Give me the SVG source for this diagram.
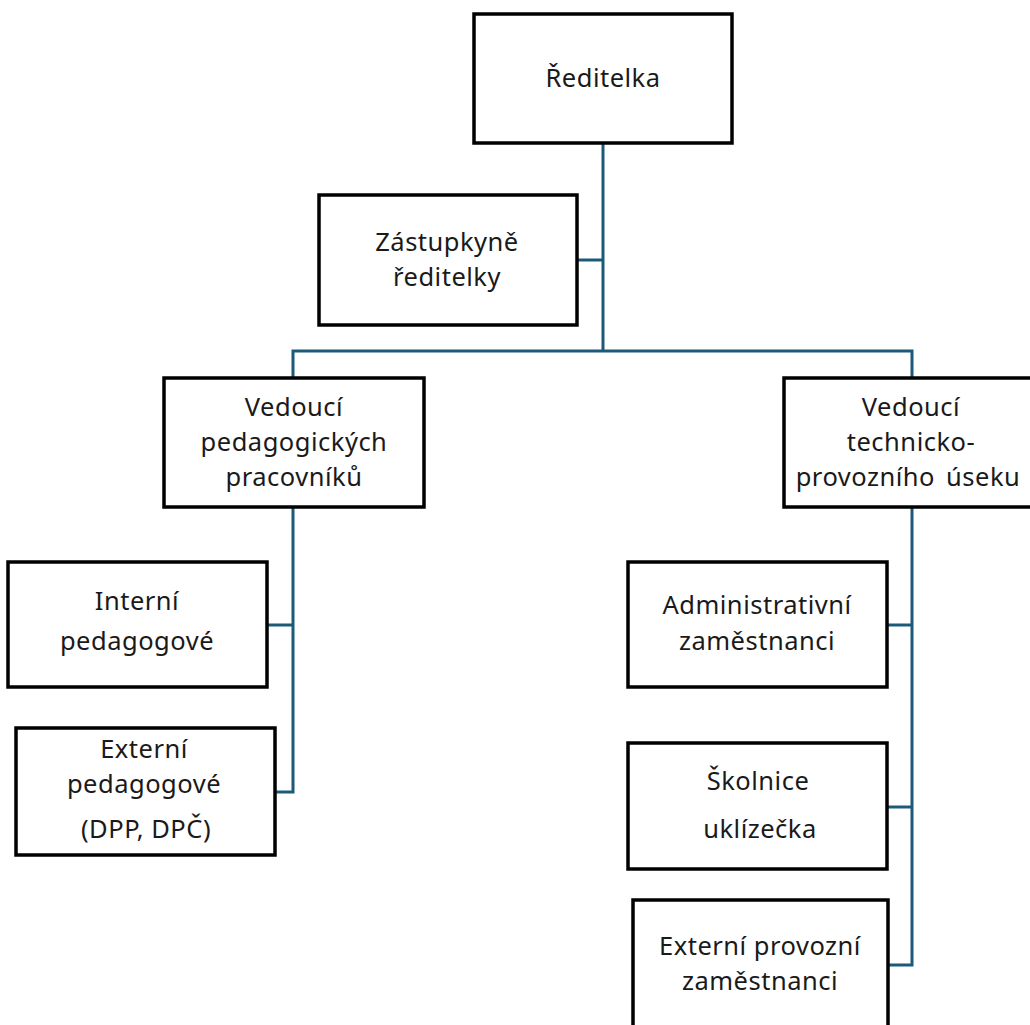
<svg xmlns="http://www.w3.org/2000/svg" width="1030" height="1025" viewBox="0 0 1030 1025">
<style>
.box{fill:#fff;stroke:#000;stroke-width:3.5}
.t{font-family:"Noto Sans","Open Sans","DejaVu Sans",sans-serif;font-size:25.5px;letter-spacing:0.5px;fill:#1a1a1a;text-anchor:middle}
.c{fill:none;stroke:#1b5a78;stroke-width:3}
</style>
<rect width="1030" height="1025" fill="#fff"/>
<g id="connectors">
<path class="c" d="M603,143 V351"/>
<path class="c" d="M577,260 H603"/>
<path class="c" d="M293,378 V351 H912 V378"/>
<path class="c" d="M293,507 V792 H275"/>
<path class="c" d="M267,625 H293"/>
<path class="c" d="M912,507 V965 H888"/>
<path class="c" d="M887,625 H912"/>
<path class="c" d="M887,807 H912"/>
</g>
<g id="reditelka">
<rect class="box" x="474" y="14" width="258" height="129"/>
<text class="t" x="603" y="87">Ředitelka</text>
</g>
<g id="zastupkyne">
<rect class="box" x="319" y="195" width="258" height="130"/>
<text class="t" x="447" y="251">Zástupkyně</text>
<text class="t" x="447" y="286">ředitelky</text>
</g>
<g id="vedouci-ped">
<rect class="box" x="164" y="378" width="260" height="129"/>
<text class="t" x="294" y="416">Vedoucí</text>
<text class="t" x="294" y="451">pedagogických</text>
<text class="t" x="294" y="486">pracovníků</text>
</g>
<g id="vedouci-tech">
<rect class="box" x="784" y="378" width="262" height="129"/>
<text class="t" x="911" y="416">Vedoucí</text>
<text class="t" x="911" y="451">technicko-</text>
<text class="t" x="908" y="486" style="word-spacing:4px">provozního úseku</text>
</g>
<g id="interni">
<rect class="box" x="8" y="562" width="259" height="125"/>
<text class="t" x="137" y="610">Interní</text>
<text class="t" x="137" y="650">pedagogové</text>
</g>
<g id="externi">
<rect class="box" x="16" y="728" width="259" height="127"/>
<text class="t" x="144" y="758">Externí</text>
<text class="t" x="144" y="793">pedagogové</text>
<text class="t" x="146" y="838">(DPP, DPČ)</text>
</g>
<g id="administrativni">
<rect class="box" x="628" y="562" width="259" height="125"/>
<text class="t" x="757" y="614">Administrativní</text>
<text class="t" x="757" y="650">zaměstnanci</text>
</g>
<g id="skolnice">
<rect class="box" x="628" y="743" width="259" height="126"/>
<text class="t" x="758" y="790">Školnice</text>
<text class="t" x="760" y="838">uklízečka</text>
</g>
<g id="externi-provozni">
<rect class="box" x="633" y="900" width="255" height="140"/>
<text class="t" x="760" y="955">Externí provozní</text>
<text class="t" x="760" y="990">zaměstnanci</text>
</g>
</svg>
